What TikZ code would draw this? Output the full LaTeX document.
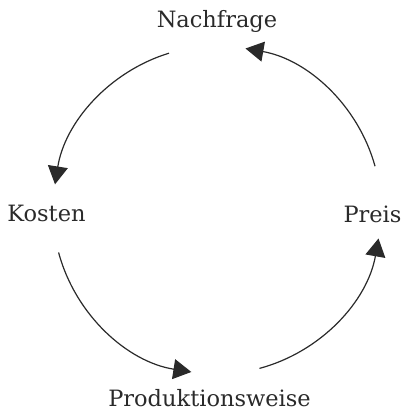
\documentclass[tikz,border=0pt]{standalone}
\usepackage{fontspec}
\setmainfont{DejaVu Serif}
\usetikzlibrary{arrows.meta,calc}
\definecolor{ink}{HTML}{2A2A2A}
\begin{document}
\begin{tikzpicture}[x=1pt,y=1pt,
  lbl/.style={inner sep=0pt,anchor=base,text=ink,font=\fontsize{22.5}{26}\selectfont},
  cyc/.style={draw=ink,line width=1.2pt,-{Triangle[length=18pt,width=20pt]}}]
\useasboundingbox (0,0) rectangle (406,410);
\coordinate (c) at (217,200);
\node[lbl] (nach) at (217,382) {Nachfrage};
\node[lbl] (kost) at (46.5,188) {Kosten};
\node[lbl] (preis) at (372.5,187) {Preis};
\node[lbl] (prod) at (209.5,4) {Produktionsweise};
\coordinate (a1) at ($(c)+(107:164)$);
\coordinate (a2) at ($(c)+(15.5:164)$);
\coordinate (a3) at ($(c)+(195:164)$);
\coordinate (a4) at ($(c)+(285:164)$);
\draw[cyc] (a1) arc[start angle=107,end angle=171,radius=164];
\draw[cyc] (a2) arc[start angle=15.5,end angle=80,radius=164];
\draw[cyc] (a3) arc[start angle=195,end angle=261,radius=164];
\draw[cyc] (a4) arc[start angle=285,end angle=350,radius=164];
\end{tikzpicture}
\end{document}
